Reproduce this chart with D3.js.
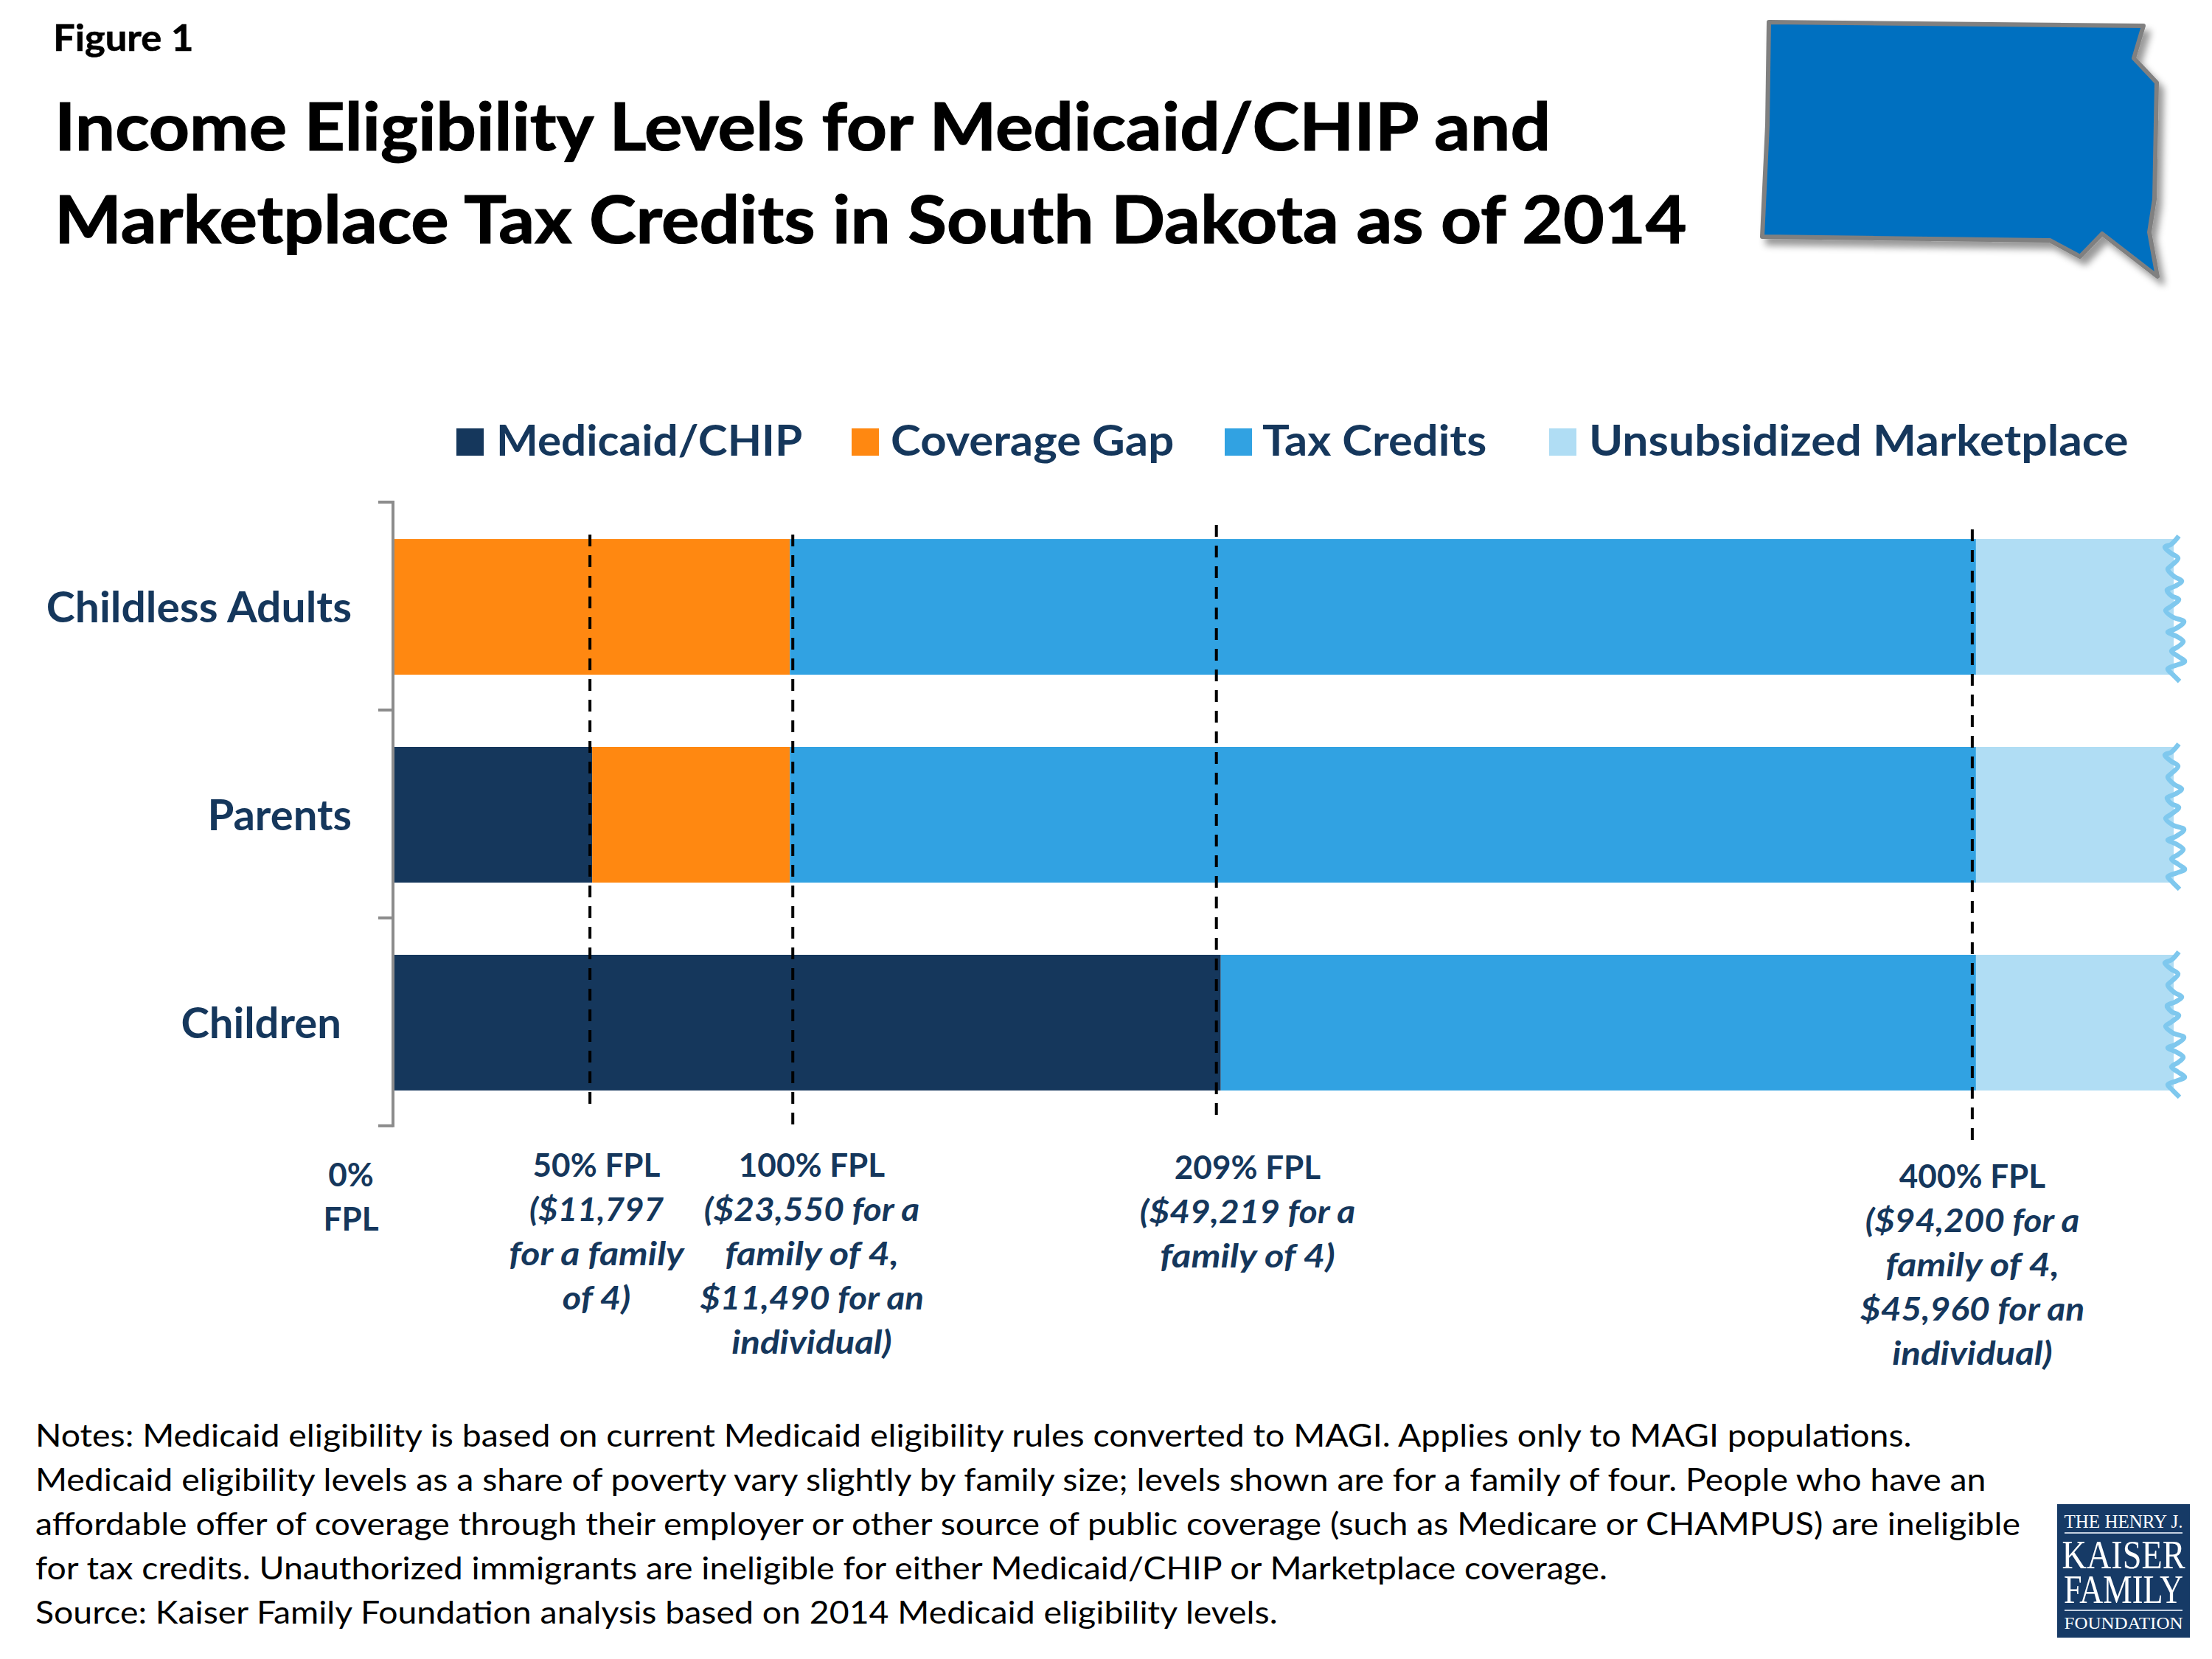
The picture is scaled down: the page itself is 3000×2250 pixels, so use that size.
<!DOCTYPE html>
<html>
<head>
<meta charset="utf-8">
<script src="https://cdn.jsdelivr.net/npm/d3@7"></script>
<style>
  html, body { margin: 0; padding: 0; background: #fff; }
  text { font-family: Lato, "Open Sans", sans-serif; }
</style>
</head>
<body>
<svg id="chart" width="3000" height="2250"></svg>
<script>
// ---------- DATA ----------
const groups = ["Childless Adults", "Parents", "Children"];
const seriesNames = ["Medicaid/CHIP", "Coverage Gap", "Tax Credits", "Unsubsidized Marketplace"];
// width of each band, in % of the federal poverty level
const medicaidChip = [0, 50, 209];
const coverageGap = [100, 50, 0];
const taxCredits = [300, 300, 191];
const unsubsidized = [50, 50, 50];

const fplMarks = [50, 100, 209, 400];
const fplHead = ["50% FPL", "100% FPL", "209% FPL", "400% FPL"];
const fplDetail = [
  ["($11,797", "for a family", "of 4)"],
  ["($23,550 for a", "family of 4,", "$11,490 for an", "individual)"],
  ["($49,219 for a", "family of 4)"],
  ["($94,200 for a", "family of 4,", "$45,960 for an", "individual)"]
];
const titleLines = [
  "Income Eligibility Levels for Medicaid/CHIP and",
  "Marketplace Tax Credits in South Dakota as of 2014"
];
const noteLines = [
  "Notes: Medicaid eligibility is based on current Medicaid eligibility rules converted to MAGI. Applies only to MAGI populations.",
  "Medicaid eligibility levels as a share of poverty vary slightly by family size; levels shown are for a family of four. People who have an",
  "affordable offer of coverage through their employer or other source of public coverage (such as Medicare or CHAMPUS) are ineligible",
  "for tax credits. Unauthorized immigrants are ineligible for either Medicaid/CHIP or Marketplace coverage.",
  "Source: Kaiser Family Foundation analysis based on 2014 Medicaid eligibility levels."
];

// ---------- STYLE / LAYOUT ----------
const navy = "#15375C";
const colors = ["#15375C", "#FF8811", "#31A2E2", "#B0DDF4"];
const legendSwatchX = [619, 1155, 1661, 2101];
const legendTextX = [673, 1208, 1712, 2155];
const legendStretch = [1.038, 1.064, 1.06, 1.076];
const markNudge = [-3, 4, -6, -5];       // hand placed in the original, not on the bar edge
const markTop = [725, 725, 712, 718];
const markBottom = [1497, 1525, 1512, 1546];
const labelX = [809, 1101, 1692, 2675];
const labelY = [1596, 1596, 1599, 1611];
const detailStretch = [
  [1.04, 1.14, 1.11],
  [1.086, 1.15, 1.08, 1.12],
  [1.086, 1.15],
  [1.08, 1.15, 1.09, 1.12]
];
const groupLabelEnd = [477, 477, 463];
const groupStretch = [1.014, 1, 1];

const svg = d3.select("#chart");

// widen a text a little, Lato runs narrower than the original face
function stretch(sel, factor) {
  sel.each(function (d, i) {
    d3.select(this)
      .attr("textLength", this.getComputedTextLength() * (typeof factor === "function" ? factor(d, i) : factor))
      .attr("lengthAdjust", "spacingAndGlyphs");
  });
}

// Scales
const x = d3.scaleLinear().domain([0, 450]).range([535, 2948]);
const y = d3.scaleBand().domain(groups).range([682, 1528]).paddingInner(0.3475).paddingOuter(0.174);

// ---------- HEADER ----------
svg.append("text").attr("x", 72).attr("y", 69)
  .attr("font-size", 50).attr("font-weight", 700).attr("fill", "#000")
  .attr("stroke", "#000").attr("stroke-width", 0.6)
  .text("Figure 1")
  .call(stretch, 1.05);

svg.selectAll(".title").data(titleLines).enter().append("text")
  .attr("class", "title")
  .attr("x", 74).attr("y", (d, i) => 204 + i * 126)
  .attr("font-size", 89).attr("font-weight", 700).attr("fill", "#000")
  .attr("stroke", "#000").attr("stroke-width", 1.2)
  .text(d => d)
  .call(stretch, 1.082);

// ---------- STATE SHAPE ----------
const defs = svg.append("defs");
const shadow = defs.append("filter").attr("id", "state-shadow")
  .attr("x", "-10%").attr("y", "-10%").attr("width", "125%").attr("height", "130%");
shadow.append("feDropShadow").attr("dx", 7).attr("dy", 9).attr("stdDeviation", 5)
  .attr("flood-color", "#000").attr("flood-opacity", 0.4);

const stateOutline = [[2399, 30], [2907, 35], [2894, 79], [2925, 112], [2922, 270], [2915, 315],
  [2926, 375], [2851, 317], [2821, 348], [2780, 326], [2390, 321], [2397, 170]];
svg.append("path")
  .attr("d", d3.line().curve(d3.curveLinearClosed)(stateOutline))
  .attr("fill", "#006FC0").attr("stroke", "#808080").attr("stroke-width", 6)
  .attr("stroke-linejoin", "round").attr("filter", "url(#state-shadow)");

// ---------- LEGEND ----------
const legend = svg.append("g").attr("class", "legend");
legend.selectAll("rect").data(seriesNames).enter().append("rect")
  .attr("x", (d, i) => legendSwatchX[i]).attr("y", 581)
  .attr("width", 37).attr("height", 37)
  .attr("fill", (d, i) => colors[i]);
legend.selectAll("text").data(seriesNames).enter().append("text")
  .attr("x", (d, i) => legendTextX[i]).attr("y", 618)
  .attr("font-size", 58).attr("font-weight", 700).attr("fill", navy)
  .text(d => d)
  .call(stretch, (d, i) => legendStretch[i]);

// ---------- BARS ----------
const rows = groups.map((g, i) => ({
  group: g,
  [seriesNames[0]]: medicaidChip[i],
  [seriesNames[1]]: coverageGap[i],
  [seriesNames[2]]: taxCredits[i],
  [seriesNames[3]]: unsubsidized[i]
}));
const stacked = d3.stack().keys(seriesNames)(rows);

svg.append("g").selectAll("g").data(stacked).enter().append("g")
  .attr("fill", (d, i) => colors[i])
  .selectAll("rect").data(d => d).enter().append("rect")
  .attr("x", d => x(d[0]))
  .attr("y", d => y(d.data.group))
  .attr("width", d => x(d[1]) - x(d[0]))
  .attr("height", y.bandwidth());

// torn right edge of each bar (offsets from the bar's top right corner)
const tear = [[7, -4], [-3, 7], [-12, 11], [-4, 19], [6, 26], [-3, 36], [-8, 41], [1, 51], [11, 57],
  [2, 64], [-9, 69], [-3, 77], [7, 82], [-3, 91], [-11, 97], [-1, 106], [14, 112], [2, 122], [-8, 126],
  [4, 132], [13, 139], [6, 146], [-3, 152], [6, 159], [15, 166], [4, 171], [-8, 176], [-1, 184], [8, 193]];
const tearLine = d3.line().curve(d3.curveCatmullRom);
svg.append("g").selectAll("path").data(groups).enter().append("path")
  .attr("d", g => tearLine(tear.map(p => [x(450) + p[0], y(g) + p[1]])))
  .attr("fill", "none").attr("stroke", "#7FC8EE").attr("stroke-width", 6.5);

// ---------- AXIS ----------
const step = y.step();
const axisTicks = [0, 1, 2, 3].map(i => y.range()[0] + i * step - 1);
const axis = svg.append("g").attr("stroke", "#8C8C8C").attr("stroke-width", 4).attr("fill", "none");
axis.append("path").attr("d", `M533,${axisTicks[0] - 2}V${axisTicks[3] + 2}`);
axis.selectAll("line").data(axisTicks).enter().append("line")
  .attr("x1", 513).attr("x2", 533).attr("y1", d => d).attr("y2", d => d);

svg.append("g").selectAll("text").data(groups).enter().append("text")
  .attr("x", (d, i) => groupLabelEnd[i])
  .attr("y", d => y(d) + 113)
  .attr("text-anchor", "end")
  .attr("font-size", 58).attr("font-weight", 700).attr("fill", navy)
  .text(d => d)
  .call(stretch, (d, i) => groupStretch[i]);

// ---------- FPL MARKERS ----------
svg.append("g").selectAll("line").data(fplMarks).enter().append("line")
  .attr("x1", (d, i) => x(d) + markNudge[i]).attr("x2", (d, i) => x(d) + markNudge[i])
  .attr("y1", (d, i) => markTop[i]).attr("y2", (d, i) => markBottom[i])
  .attr("stroke", "#000").attr("stroke-width", 4).attr("stroke-dasharray", "16 12");

const labels = svg.append("g").attr("text-anchor", "middle").attr("fill", navy)
  .attr("font-size", 44).attr("font-weight", 700);

labels.append("text").attr("x", 476).attr("y", 1609).text("0%");
labels.append("text").attr("x", 476).attr("y", 1669).text("FPL");

fplMarks.forEach((m, i) => {
  labels.append("text").attr("x", labelX[i]).attr("y", labelY[i]).text(fplHead[i]);
  fplDetail[i].forEach((line, j) => {
    labels.append("text").attr("x", labelX[i]).attr("y", labelY[i] + (j + 1) * 60)
      .attr("font-style", "italic").text(line)
      .call(stretch, detailStretch[i][j]);
  });
});

// ---------- NOTES ----------
svg.append("g").selectAll("text").data(noteLines).enter().append("text")
  .attr("x", 48).attr("y", (d, i) => 1962 + i * 60)
  .attr("font-size", 43).attr("fill", "#000")
  .text(d => d)
  .call(stretch, 1.079);

// ---------- LOGO ----------
const logo = svg.append("g").attr("class", "logo");
logo.append("rect").attr("x", 2790).attr("y", 2040).attr("width", 180).attr("height", 181).attr("fill", "#163A66");
const logoText = [
  ["THE HENRY J.", 2072, 26, 161],
  ["KAISER", 2127, 54, 167],
  ["FAMILY", 2174, 54, 162],
  ["FOUNDATION", 2209, 24, 161]
];
logo.selectAll("text").data(logoText).enter().append("text")
  .attr("x", 2880).attr("y", d => d[1]).attr("text-anchor", "middle")
  .attr("font-size", d => d[2]).attr("fill", "#fff")
  .attr("textLength", d => d[3]).attr("lengthAdjust", "spacingAndGlyphs")
  .style("font-family", '"Liberation Serif", serif')
  .text(d => d[0]);
logo.selectAll("line").data([2079, 2184]).enter().append("line")
  .attr("x1", 2800).attr("x2", 2960).attr("y1", d => d).attr("y2", d => d)
  .attr("stroke", "#C4D0E0").attr("stroke-width", 2);
</script>
</body>
</html>
